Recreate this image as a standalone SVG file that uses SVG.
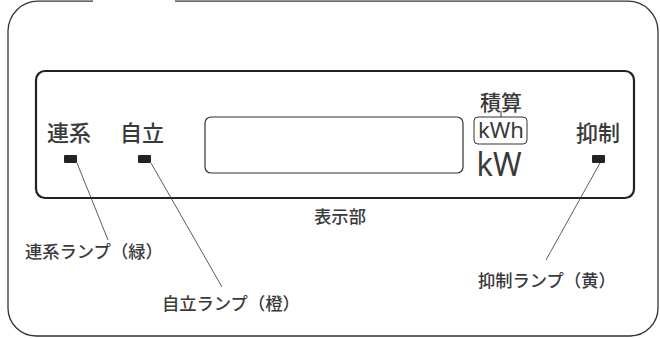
<svg xmlns="http://www.w3.org/2000/svg" width="660" height="338" viewBox="0 0 660 338">
<style>
.t{font-family:"Noto Sans CJK JP","Noto Sans",sans-serif;fill:#3a3a3a;font-weight:500}
.lbl{font-size:22px}
.cap{font-size:17.3px}
.en{font-family:"Noto Sans",sans-serif;font-weight:400}
.led{fill:#222}
.lead{stroke:#333;stroke-width:0.8;fill:none}
</style>
<rect width="660" height="338" fill="#fff"/>
<g id="frame">
<path d="M93,1.2 H38 A30,30 0 0 0 8,31 V308 A28,28 0 0 0 36,336 H630 A28,28 0 0 0 658,308 V31 A30,30 0 0 0 628,1.2 H175" fill="none" stroke="#333" stroke-width="1.3"/>
</g>
<g id="panel">
<rect x="36" y="71" width="598" height="127" rx="9" fill="none" stroke="#222" stroke-width="2.2"/>
</g>
<g id="display">
<rect x="205" y="117" width="258" height="56" rx="6" fill="none" stroke="#333" stroke-width="1.2"/>
</g>
<g id="units">
<text class="t" x="501" y="110" font-size="21" text-anchor="middle">積算</text>
<line x1="501" y1="111" x2="501" y2="117" stroke="#333" stroke-width="1"/>
<rect x="474" y="117" width="53" height="27" rx="4" fill="none" stroke="#333" stroke-width="1"/>
<text class="t en" x="501" y="138" font-size="22" text-anchor="middle" textLength="46" lengthAdjust="spacingAndGlyphs">kWh</text>
<text class="t en" x="499" y="176" font-size="32" text-anchor="middle" textLength="45" lengthAdjust="spacingAndGlyphs">kW</text>
</g>
<g id="renkei">
<text class="t lbl" x="47" y="141">連系</text>
<rect class="led" x="64" y="155" width="13" height="8" rx="1"/>
</g>
<g id="jiritsu">
<text class="t lbl" x="120" y="141">自立</text>
<rect class="led" x="138" y="155" width="13" height="8" rx="1"/>
</g>
<g id="yokusei">
<text class="t lbl" x="576" y="141">抑制</text>
<rect class="led" x="592" y="155" width="13" height="8" rx="1"/>
</g>
<g id="connectors">
<line class="lead" x1="77" y1="163" x2="108" y2="240"/>
<line class="lead" x1="151" y1="163" x2="222" y2="287"/>
<line class="lead" x1="600" y1="163" x2="546" y2="260"/>
</g>
<g id="labels">
<text class="t cap" x="340" y="223" text-anchor="middle">表示部</text>
<text class="t cap" x="25" y="258">連系ランプ（緑）</text>
<text class="t cap" x="162" y="310">自立ランプ（橙）</text>
<text class="t cap" x="478" y="287">抑制ランプ（黄）</text>
</g>
</svg>
